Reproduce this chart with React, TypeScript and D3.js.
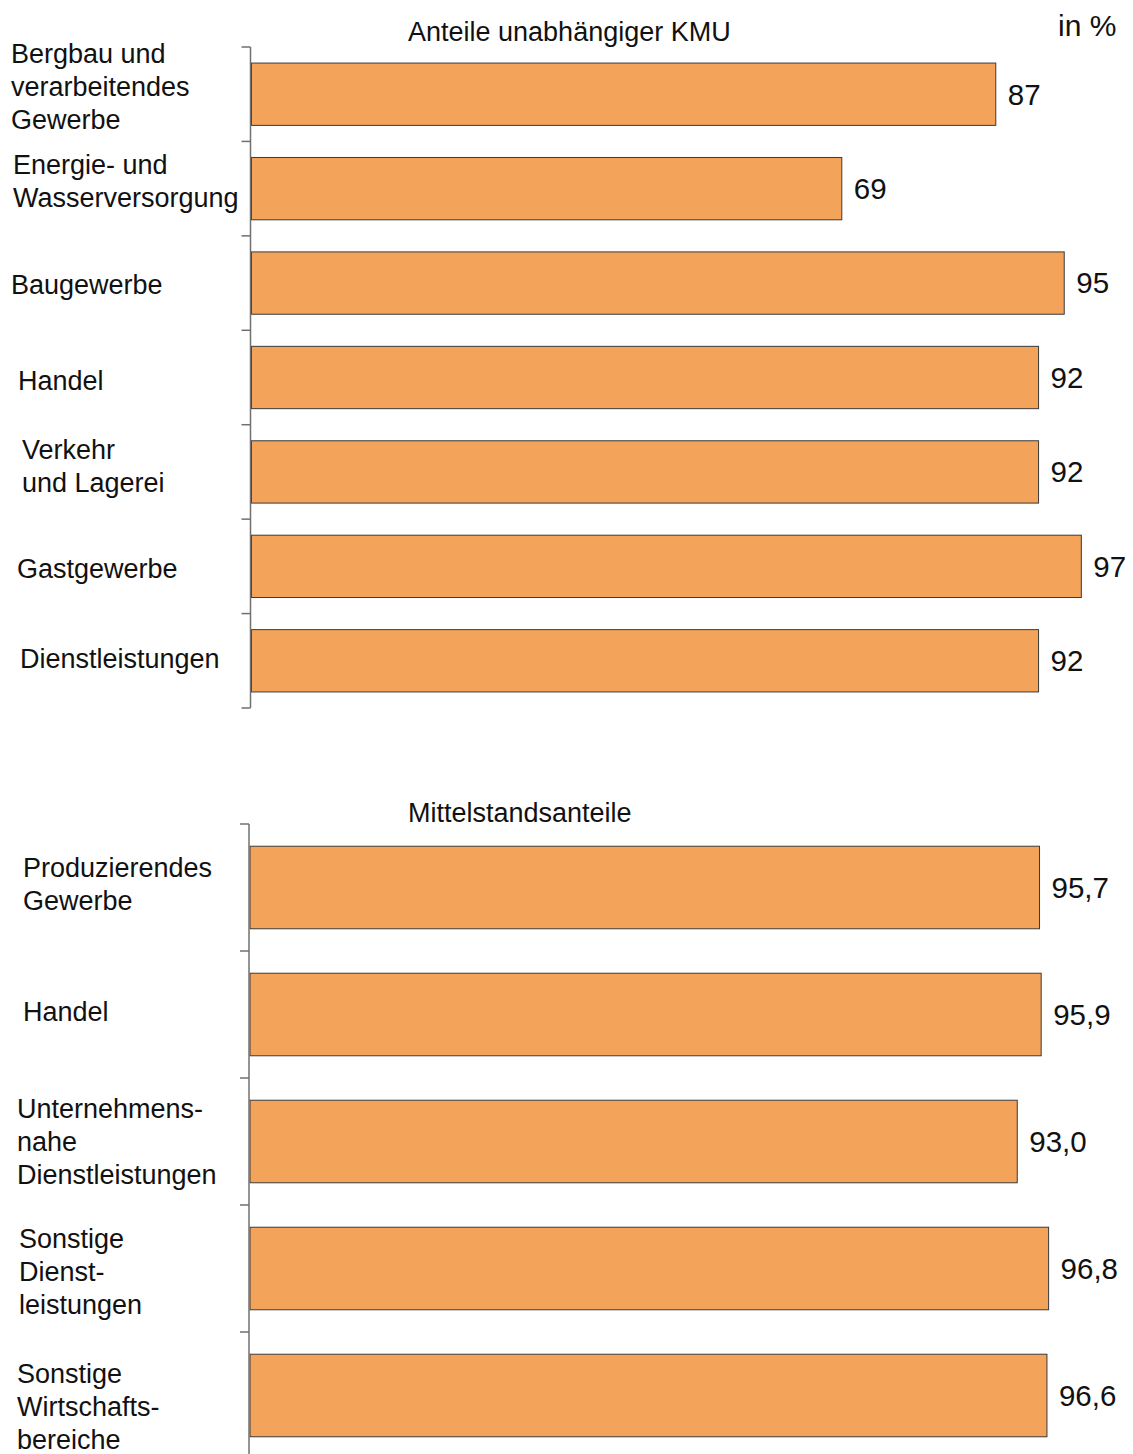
import * as React from 'react';
import * as d3 from 'd3';

// oberes Diagramm: Anteile unabhängiger KMU
const topTitle = 'Anteile unabhängiger KMU';
const topCategories = [
  ['Bergbau und', 'verarbeitendes', 'Gewerbe'],
  ['Energie- und', 'Wasserversorgung'],
  ['Baugewerbe'],
  ['Handel'],
  ['Verkehr', 'und Lagerei'],
  ['Gastgewerbe'],
  ['Dienstleistungen'],
];
const topValues = [87, 69, 95, 92, 92, 97, 92];
const topValueLabels = ['87', '69', '95', '92', '92', '97', '92'];

// unteres Diagramm: Mittelstandsanteile
const bottomTitle = 'Mittelstandsanteile';
const bottomCategories = [
  ['Produzierendes', 'Gewerbe'],
  ['Handel'],
  ['Unternehmens-', 'nahe', 'Dienstleistungen'],
  ['Sonstige', 'Dienst-', 'leistungen'],
  ['Sonstige', 'Wirtschafts-', 'bereiche'],
];
const bottomValues = [95.7, 95.9, 93.0, 96.8, 96.6];
const bottomValueLabels = ['95,7', '95,9', '93,0', '96,8', '96,6'];

const unitLabel = 'in %';

const W = 1133;
const H = 1454;
const FONT = '"Liberation Sans", Arial, sans-serif';
const BAR = '#F3A35A';

// label x offsets, roughly as in the source layout
const topLabelX = [11, 13, 11, 18, 22, 17, 20];
const bottomLabelX = [23, 23, 17, 19, 17];
const bottomLabelDy = [-3, -3, 0, 3, 11];
const topLabelDy = [-8, -8, 1, 3, -6, 2, -2];

function Panel({ categories, values, valueLabels, y0, y1, x0, x1, labelX, labelDy, padIn, padOut }) {
  const idx = categories.map((_, i) => i);
  const y = d3.scaleBand<number>().domain(idx).range([y0, y1]).paddingInner(padIn).paddingOuter(padOut);
  const x = d3.scaleLinear().domain([0, 100]).range([x0, x1]);
  const step = y.step();
  const ticks = d3.range(categories.length + 1).map((i) => y0 + i * step);
  const lineH = 33;
  return (
    <g>
      {idx.map((i) => (
        <rect
          key={'b' + i}
          x={x(0)}
          y={y(i)}
          width={x(values[i]) - x(0)}
          height={y.bandwidth()}
          fill={BAR}
          stroke="#3a3a3a"
          strokeWidth={1}
        />
      ))}
      <line x1={x0 - 1} x2={x0 - 1} y1={y0} y2={y1} stroke="#707070" strokeWidth={1.5} />
      {ticks.map((t, i) => (
        <line key={'t' + i} x1={x0 - 10} x2={x0 - 1} y1={t} y2={t} stroke="#707070" strokeWidth={1.5} />
      ))}
      {idx.map((i) => (
        <text
          key={'v' + i}
          x={x(values[i]) + 12}
          y={y(i)! + y.bandwidth() / 2}
          dy="0.35em"
          fontSize={29.5}
          fontFamily={FONT}
          fill="#111"
        >
          {valueLabels[i]}
        </text>
      ))}
      {idx.map((i) => {
        const lines = categories[i];
        const cy = y(i)! + y.bandwidth() / 2 + labelDy[i];
        const start = cy - ((lines.length - 1) * lineH) / 2;
        return (
          <text key={'c' + i} x={labelX[i]} fontSize={27} fontFamily={FONT} fill="#111">
            {lines.map((l, j) => (
              <tspan key={j} x={labelX[i]} y={start + j * lineH} dy="0.35em">
                {l}
              </tspan>
            ))}
          </text>
        );
      })}
    </g>
  );
}

export default function App() {
  return (
    <svg width={W} height={H} style={{ position: 'absolute', left: 0, top: 0, background: '#fff' }}>
      <rect x={0} y={0} width={W} height={H} fill="#fff" />
      <text x={408} y={32} dy="0.35em" fontSize={27} fontFamily={FONT} fill="#111">
        {topTitle}
      </text>
      <text x={1058} y={25} dy="0.35em" fontSize={30} fontFamily={FONT} fill="#111">
        {unitLabel}
      </text>
      <Panel
        categories={topCategories}
        values={topValues}
        valueLabels={topValueLabels}
        y0={47}
        y1={708}
        x0={251.5}
        x1={1107}
        labelX={topLabelX}
        labelDy={topLabelDy}
        padIn={0.34}
        padOut={0.17}
      />
      <text x={408} y={813} dy="0.35em" fontSize={27} fontFamily={FONT} fill="#111">
        {bottomTitle}
      </text>
      <Panel
        categories={bottomCategories}
        values={bottomValues}
        valueLabels={bottomValueLabels}
        y0={824}
        y1={1459}
        x0={250}
        x1={1075}
        labelX={bottomLabelX}
        labelDy={bottomLabelDy}
        padIn={0.35}
        padOut={0.175}
      />
    </svg>
  );
}
